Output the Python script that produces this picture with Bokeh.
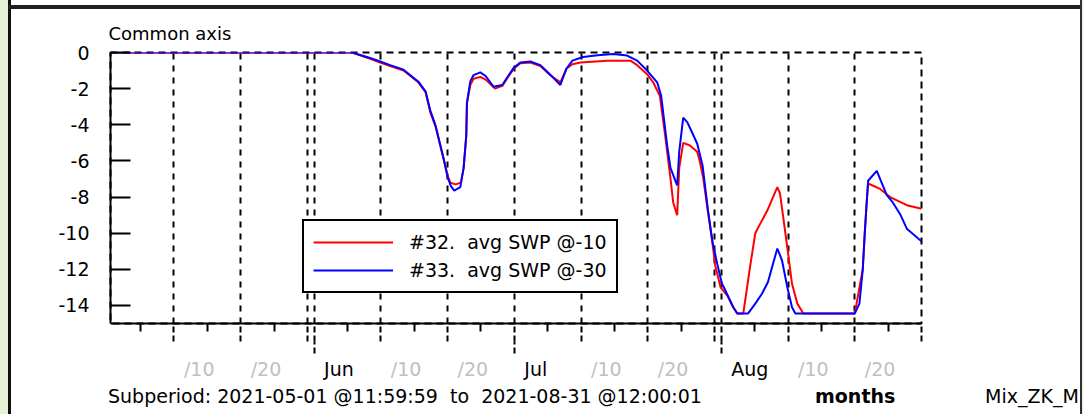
from bokeh.plotting import figure
from bokeh.models import (Range1d, FixedTicker, Label, Legend, LegendItem, Title, LinearAxis, Div)
from bokeh.layouts import column
from bokeh.embed import file_html
from bokeh.resources import INLINE

# ---- data (x = days since start of subperiod, y = SWP) ----
red_x = [0, 36.2, 38.9, 40.4, 41.9, 43.9, 46.1, 47.2, 47.9, 48.7, 49.4, 49.9, 50.5, 50.9,
         51.7, 52.5, 52.9, 53.3, 53.4, 53.9, 54.4, 55.4, 56.2, 57.6, 58.7, 59.4, 60.4, 61.4,
         62.9, 64.4, 65.4, 66.6, 67.4, 68.3, 69.2, 70.4, 74.4, 77.9, 78.9, 80.4, 81.3, 82.3,
         83.1, 83.9, 84.3, 84.9, 85.2, 85.8, 86.8, 87.9, 88.3, 88.8, 89.5, 90.2, 90.6, 91.4,
         92.4, 93.3, 93.9, 94.8, 95.8, 96.6, 97.3, 98.4, 99.9, 100.3, 101.4, 102.1, 102.9,
         103.8, 111.5, 112.7, 113.0, 113.3, 113.5, 115.3, 116.8, 119.3, 121.5]
red_y = [0, 0, -0.35, -0.55, -0.75, -1.0, -1.65, -2.2, -3.3, -4.1, -5.15, -5.9, -6.8, -7.2,
         -7.3, -7.2, -6.4, -4.6, -2.8, -1.8, -1.45, -1.35, -1.5, -2.0, -1.85, -1.45, -0.9, -0.6,
         -0.55, -0.75, -1.1, -1.45, -1.65, -0.9, -0.65, -0.55, -0.45, -0.45, -0.7, -1.2, -1.65, -2.4,
         -4.6, -7.0, -8.3, -9.0, -6.4, -5.0, -5.15, -5.5, -6.05, -6.95, -8.8, -10.6, -11.8, -13.0,
         -13.45, -14.1, -14.45, -14.45, -11.9, -10.0, -9.5, -8.75, -7.45, -7.8, -10.8, -12.8, -13.9,
         -14.45, -14.45, -12.0, -10.0, -8.2, -7.25, -7.55, -8.0, -8.45, -8.65]

blue_x = [0, 36.2, 38.9, 40.4, 41.9, 43.9, 46.1, 47.2, 47.9, 48.7, 49.4, 49.9, 50.5, 51.0,
          51.5, 52.4, 52.9, 53.3, 53.4, 53.9, 54.4, 55.4, 56.2, 57.4, 58.7, 59.4, 60.4, 61.4,
          62.9, 64.4, 65.4, 66.6, 67.4, 68.3, 69.2, 70.8, 73.0, 75.3, 77.4, 78.9, 80.4, 81.9,
          82.5, 83.4, 83.9, 84.9, 85.2, 85.8, 86.4, 87.1, 87.9, 88.7, 89.5, 90.2, 90.9, 91.6,
          92.1, 93.3, 93.9, 95.5, 96.6, 97.6, 98.5, 99.1, 99.9, 100.6, 101.4, 102.1, 102.6,
          111.5, 112.2, 112.7, 113.0, 113.5, 114.8, 116.3, 117.2, 118.3, 119.3, 121.5]
blue_y = [0, 0, -0.3, -0.5, -0.7, -0.95, -1.6, -2.15, -3.2, -4.05, -5.1, -5.85, -6.9, -7.4,
          -7.65, -7.45, -6.4, -4.6, -2.8, -1.6, -1.25, -1.1, -1.3, -1.9, -1.8, -1.4, -0.85, -0.55,
          -0.5, -0.7, -1.05, -1.5, -1.8, -0.9, -0.45, -0.25, -0.15, -0.08, -0.17, -0.45, -1.0, -1.65,
          -2.4, -5.15, -6.4, -7.35, -5.5, -3.6, -3.85, -4.4, -5.05, -6.25, -8.7, -10.5, -11.7, -12.8,
          -13.15, -14.1, -14.45, -14.45, -13.9, -13.35, -12.7, -11.9, -10.85, -11.5, -13.0, -14.1, -14.45,
          -14.45, -13.9, -12.0, -10.0, -7.1, -6.55, -7.9, -8.3, -8.95, -9.75, -10.45]

NB = "\u00a0"
series_names = ["#32." + NB + " avg SWP @-10", "#33." + NB + " avg SWP @-30"]
series_colors = ["#ff0000", "#0000ff"]

y_ticks = [0, -2, -4, -6, -8, -10, -12, -14]
x_major = [9.5, 19.5, 29.5, 30.5, 40.5, 50.5, 60.5, 70.5, 80.5, 90.5, 91.5, 101.5, 111.5, 121.5]
x_minor = [4.5, 14.5, 24.5, 35.5, 45.5, 55.5, 65.5, 75.5, 85.5, 96.5, 106.5, 116.5]
x_month = [30.5, 60.5, 91.5]
x_label_pos = [9.5, 19.5, 30.5, 40.5, 50.5, 60.5, 70.5, 80.5, 91.5, 101.5, 111.5]
x_label_txt = ["/10", "/20", "Jun", "/10", "/20", "Jul", "/10", "/20", "Aug", "/10", "/20"]

subperiod_txt = "Subperiod: 2021-05-01 @11:59:59&nbsp; to&nbsp; 2021-08-31 @12:00:01"
unit_txt = "months"
file_txt = "Mix_ZK_M"

FONT = "DejaVu Sans"
FS = "19px"
W = 1083
LEFT, RIGHT = 110, 162

# ---------------- main plot ----------------
p = figure(width=W, height=355, x_range=Range1d(0, 121.5), y_range=Range1d(-15, 0),
           output_backend="svg", toolbar_location=None,
           min_border_left=LEFT, min_border_right=RIGHT, min_border_top=52, min_border_bottom=32)
p.background_fill_color = "white"
p.border_fill_color = "white"
p.outline_line_color = "black"
p.outline_line_width = 2
p.outline_line_alpha = 1
p.outline_line_dash = "7 5"

p.title = Title(text="Common axis", align="left", offset=-2, standoff=17,
                text_font=FONT, text_font_size="18px", text_font_style="normal",
                text_color="black")

xa = p.xaxis[0]
xa.ticker = FixedTicker(ticks=x_major, minor_ticks=x_minor)
xa.axis_line_width = 2
xa.axis_line_color = "black"
xa.major_tick_in = 0
xa.major_tick_out = 18
xa.major_tick_line_width = 2
xa.major_tick_line_dash = "6 3"
xa.minor_tick_in = 0
xa.minor_tick_out = 8
xa.minor_tick_line_width = 2
xa.major_label_standoff = 0
xa.major_label_overrides = {t: "" for t in x_major}

# longer dashed extension of the month-boundary ticks
xm = LinearAxis(ticker=FixedTicker(ticks=x_month, minor_ticks=[]))
xm.axis_line_color = None
xm.major_tick_in = 0
xm.major_tick_out = 12
xm.major_tick_line_width = 2
xm.major_tick_line_dash = "6 3"
xm.minor_tick_line_color = None
xm.major_label_standoff = 0
xm.major_label_overrides = {t: "" for t in x_month}
p.add_layout(xm, "below")

ya = p.yaxis[0]
ya.ticker = FixedTicker(ticks=y_ticks, minor_ticks=[])
ya.axis_line_width = 2
ya.axis_line_color = "black"
ya.major_tick_in = 20
ya.major_tick_out = 0
ya.major_tick_line_width = 2
ya.minor_tick_line_color = None
ya.major_label_standoff = 21
ya.major_label_text_font = FONT
ya.major_label_text_font_size = FS
ya.major_label_text_color = "black"
ya.major_label_overrides = {t: str(t) for t in y_ticks}

p.xgrid.ticker = FixedTicker(ticks=x_major)
p.xgrid.grid_line_color = "black"
p.xgrid.grid_line_width = 2
p.xgrid.grid_line_dash = "6 6"
p.ygrid.grid_line_color = None

r1 = p.line(red_x, red_y, line_color=series_colors[0], line_width=2)
r2 = p.line(blue_x, blue_y, line_color=series_colors[1], line_width=2)

legend = Legend(items=[LegendItem(label=series_names[0], renderers=[r1]),
                       LegendItem(label=series_names[1], renderers=[r2])],
                location=(192, 30), orientation="vertical")
legend.border_line_color = "black"
legend.border_line_width = 2
legend.border_line_alpha = 1
legend.background_fill_color = "white"
legend.background_fill_alpha = 1
legend.label_text_font = FONT
legend.label_text_font_size = FS
legend.label_text_color = "black"
legend.glyph_width = 80
legend.glyph_height = 24
legend.label_height = 24
legend.label_standoff = 16
legend.padding = 9
legend.spacing = 4
legend.margin = 0
p.add_layout(legend, "center")

# ---------------- tick-label strip (shares the x scale) ----------------
p2 = figure(width=W, height=27, x_range=p.x_range, y_range=Range1d(0, 1),
            output_backend="svg", toolbar_location=None, x_axis_type=None, y_axis_type=None,
            min_border_left=LEFT, min_border_right=RIGHT, min_border_top=0, min_border_bottom=0)
p2.outline_line_color = None
p2.grid.grid_line_color = None
p2.border_fill_color = "white"
for pos, txt in zip(x_label_pos, x_label_txt):
    col = "#c0c0c0" if txt.startswith("/") else "black"
    p2.add_layout(Label(x=pos + 1.5, y=0.5, text=txt, text_font=FONT, text_font_size=FS,
                        text_color=col, text_baseline="middle", text_align="left"))

# ---------------- bottom info line (plus window frame decoration) ----------------
span = ("position:absolute;top:-2px;line-height:22px;white-space:pre;"
        "font-family:'DejaVu Sans';font-size:19px;color:black;")
deco = ("position:absolute;pointer-events:none;")
info = Div(width=W, height=32, text=(
    '<div style="position:relative;width:%dpx;height:32px;background:white;">' % W +
    '<span style="%sleft:103px;">%s</span>' % (span, subperiod_txt) +
    '<span style="%sleft:810px;font-weight:bold;">%s</span>' % (span, unit_txt) +
    '<span style="%sleft:980px;">%s</span>' % (span, file_txt) +
    # window decoration: green side strips, dark frame lines
    '<div style="%sleft:-5px;top:-387px;width:8px;height:420px;background:#e3f1d4;"></div>' % deco +
    '<div style="%sleft:3px;top:-387px;width:3px;height:420px;background:#101010;"></div>' % deco +
    '<div style="%sleft:3px;top:-382px;width:1072px;height:4px;background:#202020;"></div>' % deco +
    '<div style="%sleft:1075px;top:-387px;width:2px;height:420px;background:#303030;"></div>' % deco +
    '<div style="%sleft:1077px;top:-387px;width:10px;height:420px;background:#e3f1d4;"></div>' % deco +
    '</div>'))

layout = column(p, p2, info, spacing=0)
open("out.html", "w").write(file_html(layout, INLINE))
